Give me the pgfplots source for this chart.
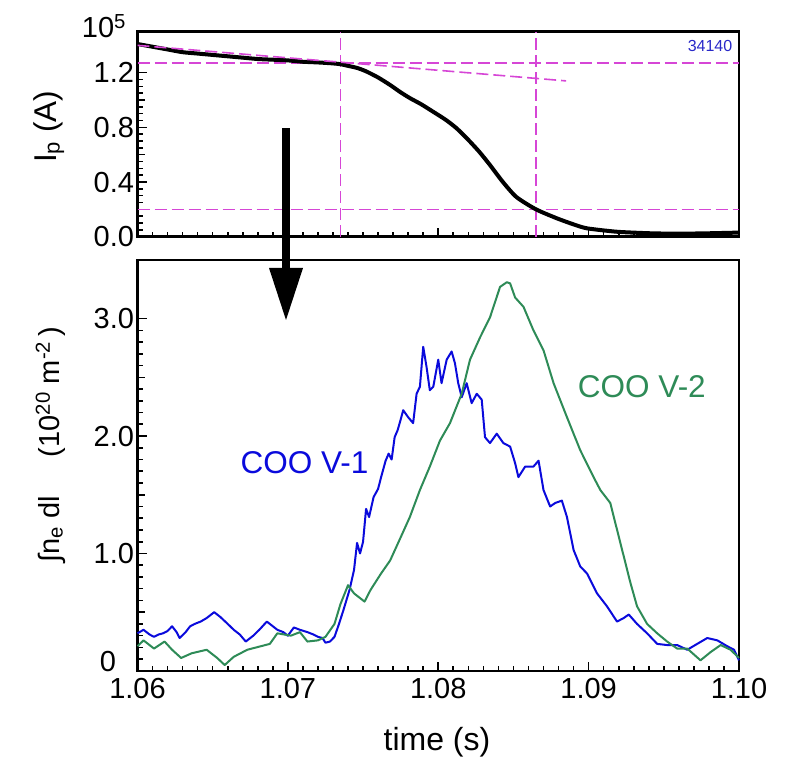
\documentclass[border=0pt]{standalone}
\usepackage{pgfplots}
\pgfplotsset{compat=1.18}
\usepackage{fontspec}
\setmainfont{Liberation Sans}
\definecolor{magline}{RGB}{214,70,214}
\definecolor{cblue}{RGB}{10,10,220}
\definecolor{cgreen}{RGB}{46,139,87}
\definecolor{numblue}{RGB}{40,40,200}
\newcommand{\bigf}{\fontsize{29}{34}\selectfont}
\newcommand{\labf}{\fontsize{31.5}{36}\selectfont}
\begin{document}
\begin{tikzpicture}
\path[use as bounding box] (0pt,0pt) rectangle (788pt,760pt);
\pgfplotsset{
  common/.style={
    scale only axis, anchor=south west,
    xmin=1.06, xmax=1.10,
    axis line style={line width=2.5pt},
    tick align=inside, xtick pos=bottom, ytick pos=left,
    major tick length=9pt, minor tick length=5pt,
    tick style={line width=1.6pt, black},
    xtick={1.06,1.07,1.08,1.09,1.10},
    minor x tick num=9,
    tick label style={font=\bigf},
  },
  magdash/.style={color=magline, line width=1.6pt, dash pattern=on 12pt off 5pt},
}
% ---------------- top axis ----------------
\begin{axis}[common,
  at={(137.5pt,523.3pt)}, width=601.5pt, height=205pt,
  ymin=0, ymax=1.5,
  xticklabels={},
  ytick={0,0.4,0.8,1.2}, yticklabels={0.0,0.4,0.8,1.2},
  minor y tick num=7,
  extra y ticks={0.2,0.6,1.0,1.4}, extra y tick labels={},
  extra y tick style={major tick length=7pt},
]
\addplot[magdash] coordinates {(1.06,1.27) (1.10,1.27)};
\addplot[magdash] coordinates {(1.06,0.199) (1.10,0.199)};
\addplot[magdash] coordinates {(1.0735,0) (1.0735,1.5)};
\addplot[magdash] coordinates {(1.0865,0) (1.0865,1.5)};
\addplot[black, line width=4pt, line join=round, smooth, tension=0.4] table {
1.0600 1.41
1.0610 1.39
1.0620 1.37
1.0630 1.35
1.0640 1.34
1.0650 1.33
1.0660 1.32
1.0670 1.31
1.0680 1.30
1.0690 1.295
1.0700 1.29
1.0710 1.28
1.0720 1.275
1.0730 1.268
1.0735 1.262
1.0740 1.25
1.0746 1.235
1.0752 1.21
1.0760 1.165
1.0768 1.11
1.07745 1.06
1.0781 1.015
1.07885 0.97
1.07965 0.915
1.0805 0.855
1.0812 0.795
1.0819 0.72
1.0827 0.625
1.0834 0.53
1.0843 0.40
1.0852 0.29
1.0865 0.20
1.0879 0.134
1.0890 0.09
1.0899 0.061
1.0919 0.036
1.0941 0.025
1.0960 0.022
1.0980 0.025
1.1000 0.03
};
\addplot[magdash] coordinates {(1.06,1.40) (1.0885,1.14)};
\end{axis}
% ---------------- bottom axis ----------------
\begin{axis}[common,
  at={(137.5pt,89.1pt)}, width=601.5pt, height=411pt,
  ymin=0, ymax=3.5,
  xticklabels={1.06,1.07,1.08,1.09,1.10},
  xticklabel style={yshift=-4pt},
  ytick={0,1,2,3}, yticklabels={,1.0,2.0,3.0},
  minor y tick num=9,
  extra y ticks={0.5,1.5,2.5}, extra y tick labels={},
  extra y tick style={major tick length=7pt},
  clip=false,
]
\addplot[cblue, line width=2pt, line join=round] table {
1.0600 0.32
1.0604 0.35
1.0608 0.31
1.0611 0.29
1.0614 0.31
1.0617 0.32
1.0620 0.34
1.0623 0.38
1.0626 0.33
1.0628 0.28
1.0632 0.33
1.0635 0.38
1.0638 0.40
1.0642 0.42
1.0646 0.45
1.0651 0.50
1.0655 0.46
1.0660 0.40
1.0664 0.35
1.0668 0.31
1.0672 0.25
1.0677 0.30
1.0681 0.35
1.0686 0.42
1.0690 0.38
1.0693 0.35
1.0697 0.33
1.0700 0.30
1.0704 0.37
1.0708 0.35
1.0713 0.33
1.0717 0.31
1.0720 0.29
1.0723 0.28
1.0725 0.24
1.0728 0.25
1.0731 0.29
1.0734 0.40
1.0737 0.52
1.0741 0.69
1.0744 0.86
1.0746 1.09
1.0748 1.00
1.0750 1.10
1.0752 1.38
1.0754 1.31
1.0757 1.48
1.0760 1.55
1.0762 1.65
1.0765 1.79
1.0767 1.85
1.0769 1.80
1.0771 1.99
1.0773 2.05
1.0775 2.14
1.07767 2.22
1.0780 2.16
1.07833 2.11
1.07856 2.36
1.07878 2.42
1.0790 2.76
1.07922 2.59
1.07944 2.39
1.07967 2.42
1.0800 2.65
1.08022 2.45
1.08056 2.65
1.08089 2.72
1.08111 2.62
1.08133 2.45
1.08156 2.33
1.08189 2.45
1.08222 2.28
1.08256 2.36
1.08289 2.31
1.08311 1.99
1.08344 1.94
1.08389 2.02
1.08433 1.94
1.08478 1.91
1.08511 1.77
1.08533 1.65
1.08578 1.74
1.08633 1.74
1.08667 1.79
1.0870 1.54
1.08744 1.40
1.08778 1.43
1.08822 1.45
1.08856 1.31
1.0890 1.03
1.08944 0.89
1.08989 0.83
1.09056 0.66
1.09122 0.55
1.09189 0.42
1.09233 0.45
1.09267 0.48
1.09322 0.40
1.09389 0.32
1.09456 0.23
1.09522 0.22
1.09589 0.22
1.09656 0.18
1.09722 0.23
1.09789 0.28
1.09856 0.26
1.09922 0.21
1.09967 0.18
1.1000 0.09
};
\addplot[cgreen, line width=2pt, line join=round] table {
1.0600 0.21
1.0604 0.26
1.0611 0.19
1.0618 0.25
1.0623 0.18
1.0629 0.11
1.0636 0.15
1.0646 0.18
1.0653 0.11
1.0658 0.05
1.0664 0.12
1.0673 0.18
1.0682 0.21
1.0688 0.23
1.0693 0.32
1.0702 0.30
1.0708 0.33
1.0713 0.25
1.0720 0.26
1.0725 0.29
1.0731 0.40
1.0735 0.57
1.0740 0.73
1.0744 0.66
1.0751 0.59
1.0755 0.69
1.0762 0.83
1.0768 0.94
1.07744 1.12
1.07811 1.31
1.07878 1.54
1.07944 1.74
1.08011 1.96
1.08078 2.11
1.08156 2.36
1.08211 2.65
1.08278 2.84
1.08344 3.01
1.08411 3.27
1.08456 3.31
1.08478 3.30
1.08511 3.18
1.08567 3.10
1.08633 2.90
1.0870 2.73
1.08767 2.45
1.08856 2.16
1.08944 1.88
1.09033 1.65
1.09078 1.54
1.09144 1.43
1.09211 1.09
1.09278 0.75
1.09322 0.55
1.09389 0.40
1.09456 0.32
1.09522 0.25
1.09589 0.19
1.09656 0.19
1.09744 0.09
1.09811 0.16
1.09878 0.22
1.09944 0.18
1.1000 0.11
};
\node[anchor=east, font=\bigf] at (axis cs:1.0588,0.08) {0};
\node[font=\labf, text=cblue] at (axis cs:1.0711,1.77) {COO V-1};
\node[font=\labf, text=cgreen] at (axis cs:1.09354,2.42) {COO V-2};
\end{axis}
% ---------------- annotations ----------------
\node[font=\bigf] at (104pt,734pt) {10\textsuperscript{5}};
\node[font=\fontsize{16}{19}\selectfont, text=numblue] at (710pt,714pt) {34140};
\node[font=\labf, rotate=90, anchor=base west, inner sep=0pt] at (56pt,597pt) {I\textsubscript{p} (A)};
\node[font=\bigf, rotate=90, anchor=base west, inner sep=0pt] at (59pt,197pt) {∫n\textsubscript{e} dl\hspace{1.35em}(10\textsuperscript{20} m\textsuperscript{-2}\,)};
\node[font=\fontsize{32}{38}\selectfont] at (437pt,18pt) {time (s)};
\fill[black] (282pt,632pt) rectangle (290pt,492pt);
\fill[black] (269pt,492pt) -- (303pt,492pt) -- (286pt,440pt) -- cycle;
\end{tikzpicture}
\end{document}
